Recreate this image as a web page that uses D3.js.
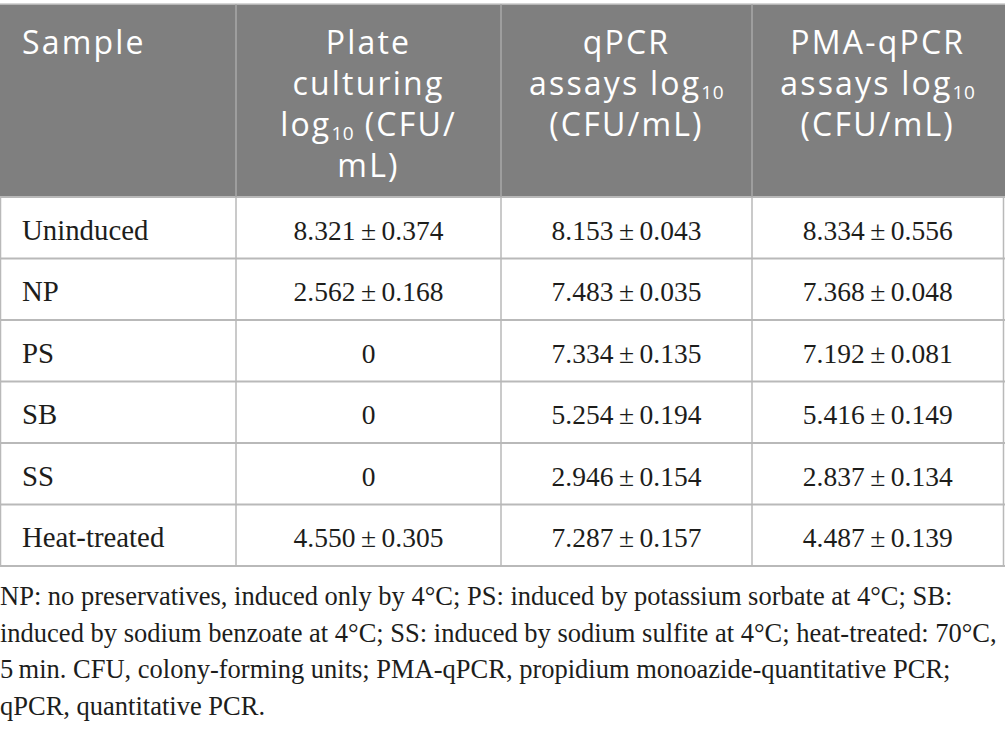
<!DOCTYPE html>
<html>
<head>
<meta charset="utf-8">
<script src="https://cdn.jsdelivr.net/npm/d3@7"></script>
<style>
  html, body { margin: 0; padding: 0; background: #fff; }
  svg { display: block; }
</style>
</head>
<body>
<svg id="tbl" width="1005" height="731"></svg>
<script>
// table values
var samples = ["Uninduced", "NP", "PS", "SB", "SS", "Heat-treated"]
var plateMean = [8.321, 2.562, 0, 0, 0, 4.550]
var plateSd = [0.374, 0.168, null, null, null, 0.305]
var qpcrMean = [8.153, 7.483, 7.334, 5.254, 2.946, 7.287]
var qpcrSd = [0.043, 0.035, 0.135, 0.194, 0.154, 0.157]
var pmaMean = [8.334, 7.368, 7.192, 5.416, 2.837, 4.487]
var pmaSd = [0.556, 0.048, 0.081, 0.149, 0.134, 0.139]

// header lines, [text, subscript, tail]
var headSample = [["Sample"]]
var headPlate = [["Plate"], ["culturing"], ["log", "10", " (CFU/"], ["mL)"]]
var headQpcr = [["qPCR"], ["assays log", "10"], ["(CFU/mL)"]]
var headPma = [["PMA-qPCR"], ["assays log", "10"], ["(CFU/mL)"]]

var footnote = [
  "NP: no preservatives, induced only by 4°C; PS: induced by potassium sorbate at 4°C; SB:",
  "induced by sodium benzoate at 4°C; SS: induced by sodium sulfite at 4°C; heat-treated: 70°C,",
  "5\u2009min. CFU, colony-forming units; PMA-qPCR, propidium monoazide-quantitative PCR;",
  "qPCR, quantitative PCR."
]

var W = 1005
var colEdges = [0.5, 236, 501, 752, 1003.5]
var topY = 4, headBottom = 197, tableBottom = 566
var headFill = "#7f7f7f"
var lineCol = "#b9b9b9"
var headLine = "#a8a8a8"
var textCol = "#1d1d1b"
var sansFont = "'Open Sans', sans-serif"
var serifFont = "'Liberation Serif', 'Times New Roman', serif"

var svg = d3.select("#tbl")

var y = d3.scaleBand().domain(samples).range([headBottom, tableBottom])

var fmt = d3.format(".3f")
var cell = function (m, s) {
  if (s == null) return String(m)
  return fmt(m) + "\u2009\u00b1\u2009" + fmt(s)
}

var rows = samples.map(function (d, i) {
  return {
    name: d,
    vals: [cell(plateMean[i], plateSd[i]), cell(qpcrMean[i], qpcrSd[i]), cell(pmaMean[i], pmaSd[i])]
  }
})

// header background
svg.append("rect")
  .attr("x", 0).attr("y", topY)
  .attr("width", W).attr("height", headBottom - topY)
  .attr("fill", headFill)

svg.append("line")
  .attr("x1", 0).attr("x2", W).attr("y1", topY).attr("y2", topY)
  .attr("stroke", "#c8c8c8").attr("stroke-width", 1.5)

// header text
var headBase = 54, headLead = 41
var heads = [headSample, headPlate, headQpcr, headPma]
heads.forEach(function (lines, c) {
  var cx = c == 0 ? 22 : (colEdges[c] + colEdges[c + 1]) / 2
  lines.forEach(function (ln, k) {
    var t = svg.append("text")
      .attr("x", cx)
      .attr("y", headBase + k * headLead)
      .attr("text-anchor", c == 0 ? "start" : "middle")
      .attr("font-family", sansFont)
      .attr("font-size", 32)
      .attr("letter-spacing", 2.2)
      .attr("fill", "#fff")
    t.append("tspan").text(ln[0])
    if (ln[1]) {
      t.append("tspan").attr("font-size", 19).attr("dy", 3.5).attr("letter-spacing", 0.5).text(ln[1])
      if (ln[2]) t.append("tspan").attr("dy", -3.5).text(ln[2])
    }
  })
})

// body rows
var g = svg.append("g")
var row = g.selectAll(".row").data(rows).enter().append("g").attr("class", "row")
  .attr("transform", function (d) { return "translate(0," + y(d.name) + ")" })

row.append("text")
  .attr("x", 22)
  .attr("y", y.bandwidth() / 2 + 12)
  .attr("font-family", serifFont)
  .attr("font-size", 28.8)
  .attr("fill", textCol)
  .text(function (d) { return d.name })

row.selectAll(".v").data(function (d) { return d.vals }).enter().append("text")
  .attr("class", "v")
  .attr("x", function (d, i) { return (colEdges[i + 1] + colEdges[i + 2]) / 2 })
  .attr("y", y.bandwidth() / 2 + 12)
  .attr("text-anchor", "middle")
  .attr("font-family", serifFont)
  .attr("font-size", 27.5)
  .attr("fill", textCol)
  .text(function (d) { return d })

// grid lines
var hl = [headBottom].concat(samples.map(function (d) { return y(d) + y.bandwidth() }))
svg.selectAll(".hl").data(hl).enter().append("line")
  .attr("x1", 0).attr("x2", W)
  .attr("y1", function (d) { return d }).attr("y2", function (d) { return d })
  .attr("stroke", lineCol).attr("stroke-width", 2)

svg.selectAll(".vl").data(colEdges).enter().append("line")
  .attr("x1", function (d) { return d }).attr("x2", function (d) { return d })
  .attr("y1", headBottom).attr("y2", tableBottom)
  .attr("stroke", lineCol).attr("stroke-width", 1.5)

svg.selectAll(".vh").data(colEdges.slice(1, 4)).enter().append("line")
  .attr("x1", function (d) { return d }).attr("x2", function (d) { return d })
  .attr("y1", topY).attr("y2", headBottom)
  .attr("stroke", headLine).attr("stroke-width", 1.5)

// footnote
svg.selectAll(".fn").data(footnote).enter().append("text")
  .attr("x", 0)
  .attr("y", function (d, i) { return 605 + i * 36.7 })
  .attr("font-family", serifFont)
  .attr("font-size", 26.5)
  .attr("fill", textCol)
  .text(function (d) { return d })
</script>
</body>
</html>
